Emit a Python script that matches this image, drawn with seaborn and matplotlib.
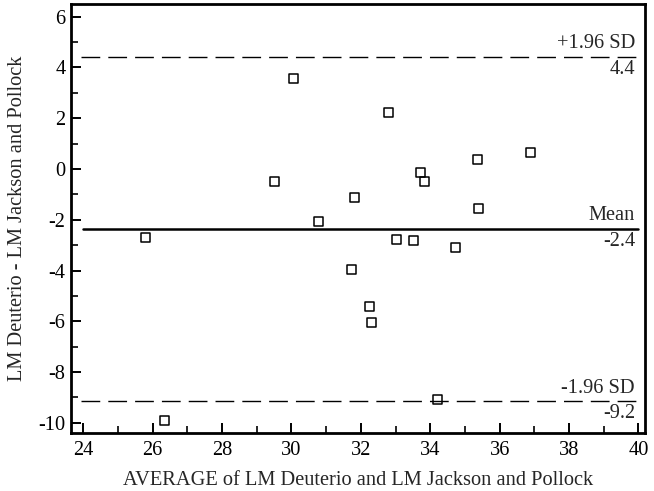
import matplotlib
matplotlib.use("Agg")
import matplotlib.pyplot as plt
import matplotlib.transforms as mtransforms
from matplotlib.ticker import MultipleLocator
import numpy as np
import pandas as pd
import seaborn as sns

# Data
avg_values = [25.80, 26.33, 29.50, 30.06, 30.79, 31.81, 31.74, 32.26, 32.32, 32.79,
              33.02, 33.51, 33.72, 33.83, 34.74, 34.21, 35.37, 35.40, 36.89]
diff_values = [-2.68, -9.90, -0.51, 3.56, -2.05, -1.14, -3.95, -5.42, -6.05, 2.21,
               -2.79, -2.82, -0.15, -0.51, -3.08, -9.10, 0.39, -1.55, 0.63]
mean_diff = -2.36
upper_loa = 4.42
lower_loa = -9.14
mean_label = "-2.4"
upper_label = "4.4"
lower_label = "-9.2"
x_ticks = [24, 26, 28, 30, 32, 34, 36, 38, 40]
y_ticks = [-10, -8, -6, -4, -2, 0, 2, 4, 6]

sns.set_style("ticks")
plt.rcParams['font.family'] = ['Liberation Serif', 'DejaVu Serif']
plt.rcParams['font.size'] = 14.7
plt.rcParams['axes.unicode_minus'] = False

FS = 14.7
df = pd.DataFrame({"avg": avg_values, "diff": diff_values})

fig = plt.figure(figsize=(6.54, 4.91), dpi=100)
ax = fig.add_axes([0.1086, 0.1187, 0.8777, 0.8732])

sns.scatterplot(data=df, x="avg", y="diff", ax=ax, marker="s", s=42,
                facecolor="none", edgecolor="black", linewidth=1.1, zorder=3)

ax.set_xlim(23.65, 40.19)
ax.set_ylim(-10.39, 6.5)

ax.plot([24, 40], [mean_diff, mean_diff], color="black", lw=1.8, zorder=2)
for v in (upper_loa, lower_loa):
    ax.plot([23.95, 40], [v, v], color="black", lw=1.0, dashes=(13.5, 5.8), zorder=2)

trans = mtransforms.blended_transform_factory(ax.transAxes, ax.transData)
xr = 0.9826
for lab, val in (("+1.96 SD", upper_loa), ("Mean", mean_diff), ("-1.96 SD", lower_loa)):
    ax.annotate(lab, xy=(xr, val), xycoords=trans, xytext=(0, 2.5),
                textcoords="offset points", ha="right", va="bottom", fontsize=FS)
for lab, val in ((upper_label, upper_loa), (mean_label, mean_diff), (lower_label, lower_loa)):
    ax.annotate(lab, xy=(xr, val), xycoords=trans, xytext=(0, -2.5),
                textcoords="offset points", ha="right", va="top", fontsize=FS)

ax.set_xticks(x_ticks)
ax.set_yticks(y_ticks)
ax.xaxis.set_minor_locator(MultipleLocator(1))
ax.yaxis.set_minor_locator(MultipleLocator(1))
ax.tick_params(which="major", direction="in", length=7.5, width=1.4, labelsize=FS, pad=6, colors="black")
ax.tick_params(axis="y", which="major", pad=4)
ax.tick_params(which="minor", direction="in", length=5, width=1.2, colors="black")
for sp in ax.spines.values():
    sp.set_visible(True)
    sp.set_linewidth(2.0)
    sp.set_color("black")

ax.set_xlabel("AVERAGE of LM Deuterio and LM Jackson and Pollock", fontsize=FS, labelpad=8)
ax.set_ylabel("LM Deuterio - LM Jackson and Pollock", fontsize=FS, labelpad=8)

fig.savefig("out.png", dpi=100, facecolor="white")
